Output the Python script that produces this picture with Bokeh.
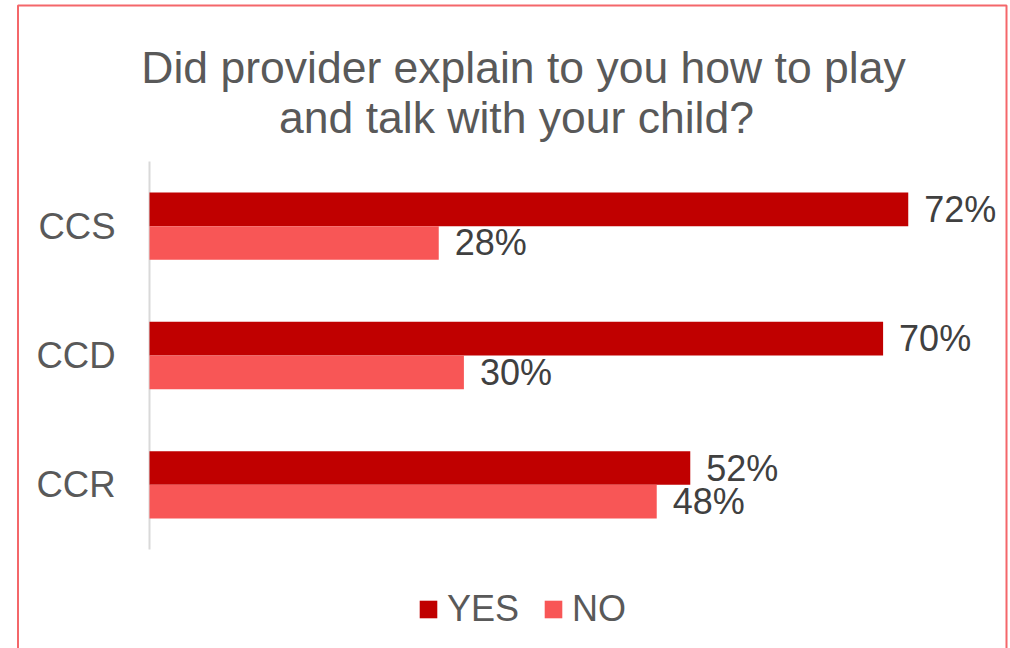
from bokeh.plotting import figure
from bokeh.models import Range1d, ColumnDataSource, Legend, LegendItem, BoxAnnotation, Label
from bokeh.embed import file_html
from bokeh.resources import INLINE
from bokeh.core.properties import value

# ---- data ----
categories = ["CCS", "CCD", "CCR"]
yes_values = [72.4, 70.0, 51.6]
no_values = [27.6, 30.0, 48.4]
yes_labels = ["72%", "70%", "52%"]
no_labels = ["28%", "30%", "48%"]
series_names = ["YES", "NO"]
title_lines = ["Did provider explain to you how to play", "and talk with your child?"]

# ---- layout constants (pixels) ----
W, H = 1010, 648
X0 = 149.0          # pixel where 0% sits
S = 10.48           # pixels per percent
Y0 = 225.67         # pixel of first category centre
PITCH = 129.33      # pixels per category

def px_x(p):
    return (p - X0) / S

def px_y(p):
    return (p - Y0) / PITCH

YES_C = "#C00000"
NO_C = "#F85656"
FONT = "Liberation Sans"

p = figure(width=W, height=H, output_backend="svg", toolbar_location=None,
           x_range=Range1d(px_x(0), px_x(W)),
           y_range=Range1d(px_y(H), px_y(0)),
           min_border=0, min_border_left=0, min_border_right=0,
           min_border_top=0, min_border_bottom=0)
p.axis.visible = False
p.grid.visible = False
p.outline_line_color = None
p.background_fill_color = "white"
p.border_fill_color = "white"

idx = list(range(len(categories)))
off = 0.13
bh = 0.26
src = ColumnDataSource(dict(
    cat=categories,
    y_yes=[i - off for i in idx],
    y_no=[i + off for i in idx],
    y_cat=idx,
    yes=yes_values, no=no_values,
    yes_lab=yes_labels, no_lab=no_labels,
    zero=[0] * len(idx),
))

# axis line (category extent)
p.segment(x0=0, x1=0, y0=-0.5, y1=len(categories) - 0.5, line_color="#D9D9D9", line_width=2)

r_yes = p.hbar(y="y_yes", left="zero", right="yes", height=bh, source=src,
               fill_color=YES_C, line_color=None)
r_no = p.hbar(y="y_no", left="zero", right="no", height=bh, source=src,
              fill_color=NO_C, line_color=None)

# category labels
p.text(x="zero", y="y_cat", text="cat", source=src, x_offset=-34,
       text_align="right", text_baseline="middle",
       text_font=value(FONT), text_font_size="36.5px", text_color="#595959")

# data labels
p.text(x="yes", y="y_yes", text="yes_lab", source=src, x_offset=16,
       text_align="left", text_baseline="middle",
       text_font=value(FONT), text_font_size="36px", text_color="#404040")
p.text(x="no", y="y_no", text="no_lab", source=src, x_offset=16,
       text_align="left", text_baseline="middle",
       text_font=value(FONT), text_font_size="36px", text_color="#404040")

# title
for line, cx, by in zip(title_lines, [523, 516], [66.7, 116.7]):
    p.add_layout(Label(x=px_x(cx), y=px_y(by), text=line, text_align="center",
                       text_baseline="alphabetic", text_font=FONT,
                       text_font_size="44.5px", text_color="#595959"))

# border
p.add_layout(BoxAnnotation(left=px_x(17.5), right=px_x(1006), top=px_y(5), bottom=px_y(700),
                           fill_alpha=0, line_color="#F4676A", line_alpha=1.0, line_width=2))

legend = Legend(items=[LegendItem(label=series_names[0], renderers=[r_yes]),
                       LegendItem(label=series_names[1], renderers=[r_no])],
                orientation="horizontal", location=(417, 648 - 630),
                padding=0, margin=0, spacing=23, label_standoff=8,
                glyph_width=22, glyph_height=22,
                label_text_font=FONT, label_text_font_size="36px",
                label_text_color="#595959",
                border_line_color=None, background_fill_alpha=0)
p.add_layout(legend)

open("out.html", "w").write(file_html(p, INLINE))
